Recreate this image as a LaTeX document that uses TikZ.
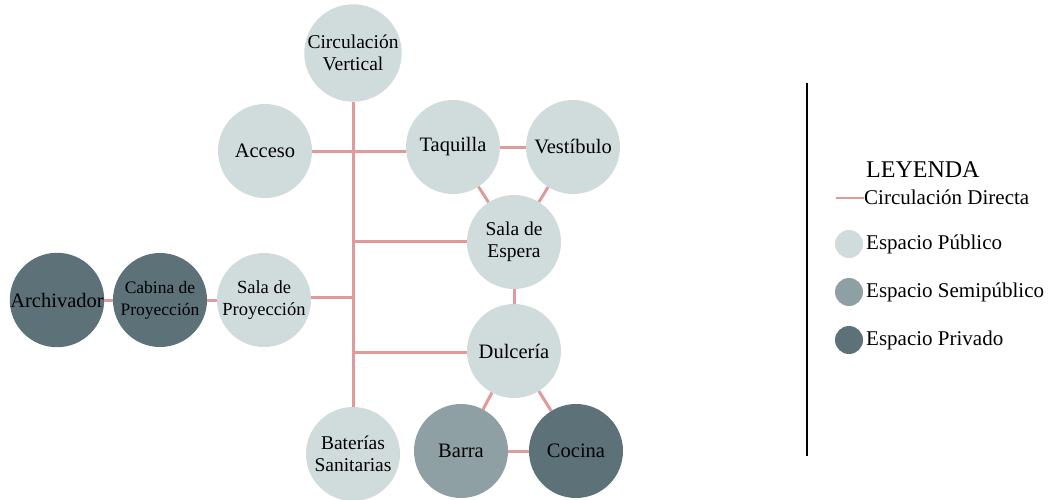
\documentclass[tikz,border=0pt]{standalone}
\usepackage{fontspec}
\setmainfont{Liberation Serif}
\definecolor{pub}{HTML}{D0DCDC}
\definecolor{semi}{HTML}{8FA0A4}
\definecolor{priv}{HTML}{5D7178}
\definecolor{circ}{HTML}{E09A9A}
\begin{document}
\begin{tikzpicture}[x=1pt,y=-1pt,
  room/.style={circle,minimum size=94pt,inner sep=0pt,align=center,font=\fontsize{20.5}{22}\selectfont,text=black},
  two/.style={font=\fontsize{19.5}{22}\selectfont},
  pubr/.style={room,fill=pub},
  semir/.style={room,fill=semi},
  privr/.style={room,fill=priv},
  link/.style={draw=circ,line width=3pt},
  legdot/.style={circle,minimum size=28pt,inner sep=0pt},
  legtxt/.style={anchor=mid west,inner sep=0pt,font=\fontsize{21}{22}\selectfont}]
\useasboundingbox (0,0) rectangle (1059,499);
\node[pubr,two] (cv) at (353,53) {Circulación\\Vertical};
\node[pubr] (acc) at (265,151) {Acceso};
\node[pubr] (taq) at (453,147) {Taquilla};
\node[pubr] (ves) at (573,147) {Vestíbulo};
\node[pubr,two] (se) at (514,242) {Sala de\\Espera};
\node[privr] (arc) at (57,300) {Archivador};
\node[privr,font=\fontsize{17.5}{22}\selectfont] (cab) at (160,300) {Cabina de\\Proyección};
\node[pubr,font=\fontsize{18.5}{22}\selectfont] (sp) at (264,300) {Sala de\\Proyección};
\node[pubr] (dul) at (514,351) {Dulcería};
\node[pubr,two] (bat) at (353,454) {Baterías\\Sanitarias};
\node[semir] (bar) at (461,451) {Barra};
\node[privr] (coc) at (576,451) {Cocina};
\coordinate (j1) at (353,151);
\coordinate (j2) at (353,241);
\coordinate (j3) at (353,297);
\coordinate (j4) at (353,352);
\path[link] (cv) -- (bat);
\path[link] (acc.east |- j1) -- (taq.west |- j1);
\path[link] (taq) -- (ves);
\path[link] (taq) -- (se);
\path[link] (ves) -- (se);
\path[link] (j2) -- (se.west |- j2);
\path[link] (sp.east |- j3) -- (j3);
\path[link] (arc) -- (cab);
\path[link] (cab) -- (sp);
\path[link] (j4) -- (dul.west |- j4);
\path[link] (se) -- (dul);
\path[link] (dul) -- (bar);
\path[link] (dul) -- (coc);
\path[link] (bar) -- (coc);
% legend
\coordinate (lt) at (807,83);
\coordinate (lb) at (807,456);
\draw[line width=2pt,black] (lt) -- (lb);
\node[anchor=base west,inner sep=0pt,font=\fontsize{24}{26}\selectfont] (ley) at (866,177) {LEYENDA};
\coordinate (la) at (836,198);
\node[legtxt] (l1) at (864,202) {Circulación Directa};
\path[link,line width=2pt] (la) -- (la -| l1.west);
\node[legdot,fill=pub] (d1) at (849,244) {};
\node[legtxt] (l2) at (866,247) {Espacio Público};
\node[legdot,fill=semi] (d2) at (849,292) {};
\node[legtxt] (l3) at (866,295) {Espacio Semipúblico};
\node[legdot,fill=priv] (d3) at (849,340) {};
\node[legtxt] (l4) at (866,343) {Espacio Privado};
\end{tikzpicture}
\end{document}
